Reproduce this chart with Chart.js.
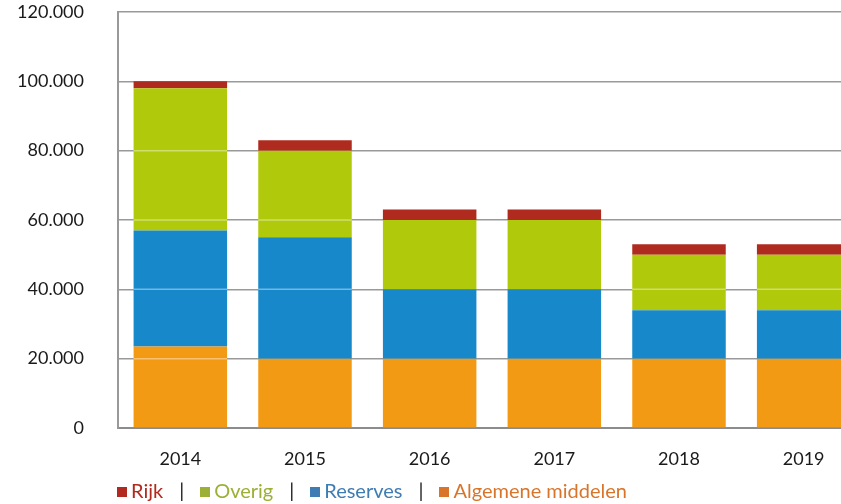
<!DOCTYPE html>
<html>
<head>
<meta charset="utf-8">
<script src="https://cdn.jsdelivr.net/npm/chart.js@4/dist/chart.umd.min.js"></script>
<style>
  html, body { margin: 0; padding: 0; overflow: hidden; background: #fff; width: 841px; height: 504px; }
  #wrap { position: absolute; left: 0; top: 0; width: 866px; height: 478px; }
  #legend { position: absolute; left: 117px; top: 476px; font-family: Lato, sans-serif; font-size: 20px; line-height: 28px; white-space: nowrap; }
  #legend span.sq { display: inline-block; width: 10px; height: 10px; margin-right: 4px; vertical-align: 1px; }
  #legend span.sep { color: #222; margin: 0 16px 0 16px; }
</style>
</head>
<body>
<div id="wrap"><canvas id="chart" width="866" height="478"></canvas></div>
<div id="legend"></div>
<script>
// data
let years = ["2014", "2015", "2016", "2017", "2018", "2019"];
let algemeneMiddelen = [23500, 20000, 20000, 20000, 20000, 20000];
let reserves = [33500, 35000, 20000, 20000, 14000, 14000];
let overig = [41000, 25000, 20000, 20000, 16000, 16000];
let rijk = [2000, 3000, 3000, 3000, 3000, 3000];
let yTicks = [0, 20000, 40000, 60000, 80000, 100000, 120000];

function dots(v) {
  return String(v).replace(/\B(?=(\d{3})+(?!\d))/g, ".");
}

// faint light gridlines running over the bars
let gridOverBars = {
  id: "gridOverBars",
  afterDatasetsDraw: function (chart) {
    let c = chart.ctx;
    let yScale = chart.scales.y;
    c.save();
    c.strokeStyle = "rgba(255,255,255,0.4)";
    c.lineWidth = 1.5;
    chart.data.datasets.forEach(function (ds, i) {
      chart.getDatasetMeta(i).data.forEach(function (bar) {
        let top = Math.min(bar.y, bar.base), bottom = Math.max(bar.y, bar.base);
        yTicks.forEach(function (t) {
          let py = yScale.getPixelForValue(t);
          if (py > top + 1 && py < bottom - 1) {
            c.beginPath();
            c.moveTo(bar.x - bar.width / 2, py);
            c.lineTo(bar.x + bar.width / 2, py);
            c.stroke();
          }
        });
      });
    });
    c.restore();
  }
};

let ctx = document.getElementById("chart").getContext("2d");
let chart = new Chart(ctx, {
  type: "bar",
  data: {
    labels: years,
    datasets: [
      { label: "Algemene middelen", data: algemeneMiddelen, backgroundColor: "#f39a15", legendColor: "#d9752b" },
      { label: "Reserves", data: reserves, backgroundColor: "#1789cb", legendColor: "#3f7cb3" },
      { label: "Overig", data: overig, backgroundColor: "#b0ca0b", legendColor: "#9bb034" },
      { label: "Rijk", data: rijk, backgroundColor: "#b02b1f", legendColor: "#b22a1f" }
    ]
  },
  options: {
    responsive: false,
    animation: false,
    layout: { padding: { top: 12, right: 0, bottom: 0, left: 0 } },
    plugins: { legend: { display: false }, tooltip: { enabled: false } },
    datasets: { bar: { barPercentage: 0.75, categoryPercentage: 1.0, borderWidth: 0 } },
    scales: {
      x: {
        stacked: true,
        grid: { display: false },
        border: { color: "#8c8c8c", width: 2 },
        ticks: { color: "#1a1a1a", font: { family: "Lato", size: 18 }, padding: 12 },
        afterFit: function (s) { s.height = 50; s.paddingLeft = 0; s.paddingRight = 0; }
      },
      y: {
        stacked: true,
        min: 0,
        max: 120000,
        afterBuildTicks: function (s) { s.ticks = yTicks.map(function (v) { return { value: v }; }); },
        grid: { color: "#999999", lineWidth: 1.5, drawTicks: false },
        border: { color: "#999999", width: 2 },
        ticks: {
          color: "#1a1a1a",
          font: { family: "Lato", size: 18 },
          padding: 34,
          callback: function (v) { return dots(v); }
        },
        // keep the tick padding horizontal only
        afterFit: function (s) { s.width = 118; s.paddingTop = 0; s.paddingBottom = 0; }
      }
    }
  },
  plugins: [gridOverBars]
});

// legend: Rijk | Overig | Reserves | Algemene middelen
let legend = document.getElementById("legend");
let items = chart.data.datasets.slice().reverse();
legend.innerHTML = items.map(function (d) {
  return '<span class="sq" style="background:' + d.legendColor + '"></span>' +
    '<span style="color:' + d.legendColor + '">' + d.label + '</span>';
}).join('<span class="sep">|</span>');
</script>
</body>
</html>
